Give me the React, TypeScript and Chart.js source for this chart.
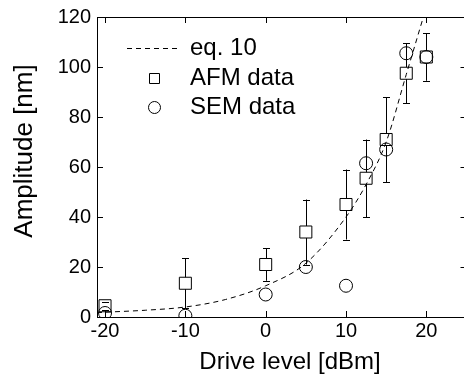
import React, { useEffect, useRef } from "react";
import { Chart, registerables } from "chart.js";

Chart.register(...registerables);

const driveLevels = [-20, -10, 0, 5, 10, 12.5, 15, 17.5, 20];
const afmAmplitude = [4.5, 13.5, 21, 34, 45, 55.5, 71, 97.5, 104];
const afmError = [1.5, 10, 6.5, 13, 14, 15.5, 17, 12, 9.5];
const semAmplitude = [1.6, 0.5, 9, 20, 12.5, 61.5, 67, 105.5, 104];

const eqLevels = [-21, -20, -15, -10, -5, 0, 5, 10, 12.5, 15, 17.5, 20];
const eqAmplitude = [1.7, 1.9, 2.7, 4, 7, 12.5, 21.5, 40, 53, 70, 97, 124];

const xTicks = [-20, -10, 0, 10, 20];
const yTicks = [0, 20, 40, 60, 80, 100, 120];

const legendLabels = ["eq. 10", "AFM data", "SEM data"];
const xTitle = "Drive level [dBm]";
const yTitle = "Amplitude [nm]";

const FONT = "'Liberation Sans', Arial, Helvetica, sans-serif";

const SQUARE_R = 8.5;
const CIRCLE_R = 6.5;

const errorBarPlugin = {
  id: "errorBars",
  afterDatasetsDraw(chart: any) {
    const { ctx, scales } = chart;
    const xs = scales.x;
    const ys = scales.y;
    const half = SQUARE_R * Math.SQRT1_2;
    ctx.save();
    ctx.strokeStyle = "#000";
    ctx.lineWidth = 1;
    driveLevels.forEach((lv, i) => {
      const x = Math.round(xs.getPixelForValue(lv)) + 0.5;
      const yc = ys.getPixelForValue(afmAmplitude[i]);
      const yt = ys.getPixelForValue(afmAmplitude[i] + afmError[i]);
      const yb = ys.getPixelForValue(afmAmplitude[i] - afmError[i]);
      ctx.beginPath();
      if (yt < yc - half) {
        ctx.moveTo(x, yc - half);
        ctx.lineTo(x, yt);
      }
      if (yb > yc + half) {
        ctx.moveTo(x, yc + half);
        ctx.lineTo(x, yb);
      }
      ctx.moveTo(x - 3.5, Math.round(yt) + 0.5);
      ctx.lineTo(x + 3.5, Math.round(yt) + 0.5);
      ctx.moveTo(x - 3.5, Math.round(yb) + 0.5);
      ctx.lineTo(x + 3.5, Math.round(yb) + 0.5);
      ctx.stroke();
    });
    ctx.restore();
  },
};

const boxPlugin = {
  id: "boxTicks",
  afterDraw(chart: any) {
    const { ctx, chartArea, scales } = chart;
    const { left, right, top, bottom } = chartArea;
    const L = 6;
    ctx.save();
    ctx.strokeStyle = "#000";
    ctx.lineWidth = 1;
    ctx.beginPath();
    ctx.moveTo(left, Math.round(top) + 0.5);
    ctx.lineTo(right, Math.round(top) + 0.5);
    ctx.moveTo(Math.round(right) - 0.5, top);
    ctx.lineTo(Math.round(right) - 0.5, bottom);
    xTicks.forEach((v) => {
      const x = Math.round(scales.x.getPixelForValue(v)) + 0.5;
      ctx.moveTo(x, bottom);
      ctx.lineTo(x, bottom - L);
      ctx.moveTo(x, top);
      ctx.lineTo(x, top + L);
    });
    yTicks.forEach((v) => {
      const y = Math.round(scales.y.getPixelForValue(v)) + 0.5;
      ctx.moveTo(left, y);
      ctx.lineTo(left + L, y);
      ctx.moveTo(right, y);
      ctx.lineTo(right - L, y);
    });
    ctx.stroke();

    // legend
    const lx = 127;
    const tx = 190;
    const rows = [48, 78, 107];
    ctx.setLineDash([5, 4]);
    ctx.beginPath();
    ctx.moveTo(lx, rows[0] + 0.5);
    ctx.lineTo(lx + 54, rows[0] + 0.5);
    ctx.stroke();
    ctx.setLineDash([]);
    ctx.beginPath();
    ctx.rect(149.5, rows[1] - 5 + 0.5, 10, 10);
    ctx.stroke();
    ctx.beginPath();
    ctx.arc(154.5, rows[2] + 0.5, 6, 0, Math.PI * 2);
    ctx.stroke();
    ctx.fillStyle = "#000";
    ctx.font = `24px ${FONT}`;
    ctx.textBaseline = "middle";
    ctx.textAlign = "left";
    legendLabels.forEach((t, i) => ctx.fillText(t, tx, rows[i]));

    // axis titles
    ctx.textAlign = "center";
    ctx.fillText(xTitle, 290, 362);
    ctx.save();
    ctx.translate(25, 151);
    ctx.rotate(-Math.PI / 2);
    ctx.font = `26px ${FONT}`;
    ctx.fillText(yTitle, 0, 0);
    ctx.restore();
    ctx.restore();
  },
};

export default function App() {
  const ref = useRef<HTMLCanvasElement | null>(null);
  useEffect(() => {
    if (!ref.current) return;
    const chart = new Chart(ref.current, {
      type: "scatter",
      data: {
        datasets: [
          {
            type: "line",
            label: legendLabels[0],
            data: eqLevels.map((x, i) => ({ x, y: eqAmplitude[i] })),
            borderColor: "#000",
            borderWidth: 1,
            borderDash: [5, 4],
            pointRadius: 0,
            fill: false,
            cubicInterpolationMode: "monotone",
          },
          {
            label: legendLabels[1],
            data: driveLevels.map((x, i) => ({ x, y: afmAmplitude[i] })),
            pointStyle: "rect",
            pointRadius: SQUARE_R,
            pointBorderColor: "#000",
            pointBackgroundColor: "rgba(0,0,0,0)",
            pointBorderWidth: 1,
          },
          {
            label: legendLabels[2],
            data: driveLevels.map((x, i) => ({ x, y: semAmplitude[i] })),
            pointStyle: "circle",
            pointRadius: CIRCLE_R,
            pointBorderColor: "#000",
            pointBackgroundColor: "rgba(0,0,0,0)",
            pointBorderWidth: 1,
          },
        ],
      },
      options: {
        responsive: false,
        animation: false,
        devicePixelRatio: 1,
        layout: { padding: { top: 17, right: 4, left: 0, bottom: 0 } },
        plugins: { legend: { display: false }, tooltip: { enabled: false } },
        scales: {
          x: {
            type: "linear",
            min: -21,
            max: 25,
            afterBuildTicks: (s: any) => {
              s.ticks = xTicks.map((v) => ({ value: v }));
            },
            afterFit: (s: any) => {
              s.height = 64;
            },
            grid: { display: false, drawTicks: false },
            border: { display: true, color: "#000", width: 1 },
            ticks: {
              color: "#000",
              font: { family: FONT, size: 20 },
              padding: 2,
              maxRotation: 0,
            },
            title: { display: false },
          },
          y: {
            type: "linear",
            min: 0,
            max: 120,
            afterBuildTicks: (s: any) => {
              s.ticks = yTicks.map((v) => ({ value: v }));
            },
            afterFit: (s: any) => {
              s.width = 97;
              s.paddingTop = 0;
              s.paddingBottom = 0;
            },
            grid: { display: false, drawTicks: false },
            border: { display: true, color: "#000", width: 1 },
            ticks: {
              color: "#000",
              font: { family: FONT, size: 20 },
              padding: 6,
            },
            title: { display: false },
          },
        },
      },
      plugins: [errorBarPlugin, boxPlugin],
    } as any);
    return () => chart.destroy();
  }, []);
  return (
    <div
      style={{
        position: "fixed",
        left: 0,
        top: 0,
        width: 464,
        height: 381,
        overflow: "hidden",
        background: "#fff",
      }}
    >
      <canvas ref={ref} width={476} height={381} style={{ width: 476, height: 381, display: "block" }} />
    </div>
  );
}
